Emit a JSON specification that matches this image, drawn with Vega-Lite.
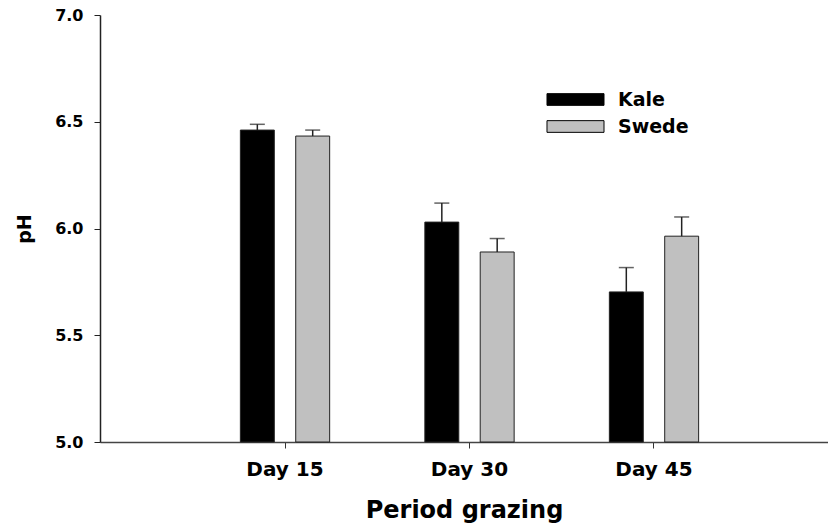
{
  "$schema": "https://vega.github.io/schema/vega-lite/v6.json",
  "autosize": {"type": "none"},
  "padding": {"left": 100, "top": 15, "right": 0, "bottom": 85},
  "width": 728,
  "height": 427,
  "background": "white",
  "config": {
    "view": {"stroke": null},
    "font": "DejaVu Sans",
    "axis": {"grid": false, "labelFont": "DejaVu Sans", "titleFont": "DejaVu Sans", "labelFontWeight": "bold", "titleFontWeight": "bold", "labelColor": "#000", "titleColor": "#000"}
  },
  "data": {
    "values": [
      {"period": "Day 15", "crop": "Kale", "pH": 6.461, "upper": 6.488},
      {"period": "Day 15", "crop": "Swede", "pH": 6.433, "upper": 6.461},
      {"period": "Day 30", "crop": "Kale", "pH": 6.030, "upper": 6.119},
      {"period": "Day 30", "crop": "Swede", "pH": 5.890, "upper": 5.953},
      {"period": "Day 45", "crop": "Kale", "pH": 5.703, "upper": 5.817},
      {"period": "Day 45", "crop": "Swede", "pH": 5.964, "upper": 6.054}
    ]
  },
  "encoding": {
    "x": {
      "field": "period", "type": "nominal",
      "scale": {"domain": ["Day 15", "Day 30", "Day 45"], "paddingInner": 0.516, "paddingOuter": 0.731, "align": 0.5204},
      "axis": {"title": "Period grazing", "labelAngle": 0, "labelFontSize": 20, "titleFontSize": 24, "tickSize": 6, "labelPadding": 11, "titlePadding": 19, "domainColor": "#444", "tickColor": "#333", "bandPosition": 0.5, "domainWidth": 1.5}
    },
    "xOffset": {"field": "crop", "type": "nominal", "scale": {"domain": ["Kale", "Swede"], "paddingInner": 0.387, "paddingOuter": 0}}
  },
  "layer": [
    {
      "mark": {"type": "bar", "stroke": "#222", "strokeWidth": 1},
      "encoding": {
        "y": {
          "field": "pH", "type": "quantitative",
          "scale": {"domain": [5, 7], "zero": false, "nice": false},
          "axis": {"title": "pH", "values": [5, 5.5, 6, 6.5, 7], "format": ".1f", "labelFontSize": 16, "titleFontSize": 19, "tickSize": 6, "labelPadding": 11, "titlePadding": 20, "domainColor": "#222", "tickColor": "#222", "domainWidth": 1.5}
        },
        "y2": {"datum": 5},
        "fill": {
          "field": "crop", "type": "nominal",
          "scale": {"domain": ["Kale", "Swede"], "range": ["#000000", "#c0c0c0"]},
          "legend": {"orient": "none", "legendX": 466, "legendY": 75, "title": null, "symbolType": "M-4.87,-1H4.87V1H-4.87Z", "symbolSize": 137, "symbolStrokeColor": "#000", "symbolStrokeWidth": 1, "labelFont": "DejaVu Sans", "labelFontWeight": "bold", "labelFontSize": 19, "labelColor": "#000", "labelOffset": 33, "rowPadding": 7}
        }
      }
    },
    {
      "mark": {"type": "rule", "color": "#222", "strokeWidth": 1.5},
      "encoding": {
        "y": {"field": "pH", "type": "quantitative"},
        "y2": {"field": "upper"}
      }
    },
    {
      "mark": {"type": "tick", "color": "#222", "orient": "horizontal", "size": 15, "thickness": 1.5},
      "encoding": {
        "y": {"field": "upper", "type": "quantitative"}
      }
    }
  ]
}
